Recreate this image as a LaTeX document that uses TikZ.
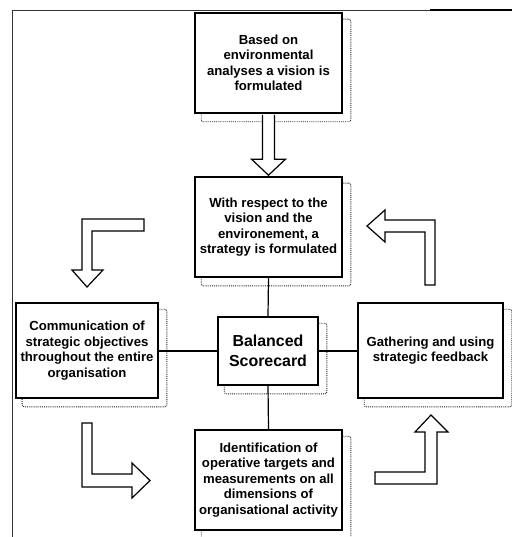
\documentclass[tikz,border=0pt]{standalone}
\usepackage{fontspec}
\setmainfont{Liberation Sans}
\usetikzlibrary{calc}
% dotted drop shadow along the right and bottom sides of a box
\newcommand\boxshadow[1]{%
  \draw[shadowline] ($(#1.north east)+(0,7)$) -| ($(#1.south east)+(8,8)$)
    -| ($(#1.south west)+(7,0)$);}
\begin{document}
\begin{tikzpicture}[x=1bp,y=-1bp,
  box/.style={draw, line width=1.6bp, fill=white, align=center, inner sep=2bp,
    font=\fontsize{13.2}{15.5}\selectfont\bfseries},
  shadowline/.style={draw=black!85, line width=0.9bp, densely dotted, rounded corners=2bp},
  link/.style={line width=1.2bp},
  blockarrow/.style={draw, line width=1.2bp, fill=white, line join=miter}]

\useasboundingbox (0,0) rectangle (512,537);

% page frame
\draw[line width=0.8bp, black!80] (12,537) -- (12,10) -- (430,10);
\draw[line width=1.4bp] (430,10) -- (512,10);

% boxes
\node[box, minimum width=147bp, minimum height=100bp] (vision) at (268.5,63)
  {Based on\\environmental\\analyses a vision is\\formulated};
\node[box, minimum width=147bp, minimum height=100bp] (strategy) at (268.5,227)
  {With respect to the\\vision and the\\environement, a\\strategy is formulated};
\node[box, minimum width=100bp, minimum height=68bp,
  font=\fontsize{16}{20}\selectfont\bfseries] (bsc) at (268,351)
  {Balanced\\Scorecard};
\node[box, minimum width=142bp, minimum height=95bp] (comm) at (87,350.5)
  {Communication of\\strategic objectives\\throughout the entire\\organisation};
\node[box, minimum width=145bp, minimum height=95bp] (feedback) at (430.5,350.5)
  {Gathering and using\\strategic feedback};
\node[box, minimum width=147bp, minimum height=100bp] (ident) at (268.5,480)
  {Identification of\\operative targets and\\measurements on all\\dimensions of\\organisational activity};

\foreach \b in {vision,strategy,bsc,comm,feedback,ident} {\boxshadow{\b}}

% links to the central box
\draw[link] (strategy.south) -- (bsc.north);
\draw[link] (bsc.south) -- (ident.north);
\draw[link] (bsc.west) -- (bsc.west -| comm.east);
\draw[link] (bsc.east) -- (bsc.east -| feedback.west);

% hollow arrow from the vision to the strategy
\draw[blockarrow] ($(vision.south)+(-6,1)$) -- ($(strategy.north)+(-6,-17)$)
  -- ($(strategy.north)+(-17,-17)$) -- ($(strategy.north)+(0,-1)$)
  -- ($(strategy.north)+(17,-17)$) -- ($(strategy.north)+(6,-17)$)
  -- ($(vision.south)+(6,1)$);

% hollow bent arrows of the cycle
\draw[blockarrow] (144,219) -- (82,219) -- (82,270) -- (72,270) -- (87,287)
  -- (103,270) -- (92,270) -- (92,231) -- (144,231) -- cycle;
\draw[blockarrow] (82,423) -- (92,423) -- (92,474) -- (132,474) -- (132,463)
  -- (150,480.5) -- (132,498) -- (132,487) -- (82,487) -- cycle;
\draw[blockarrow] (431,415) -- (448,432) -- (437,432) -- (437,484) -- (375,484)
  -- (375,472) -- (425,472) -- (425,432) -- (415,432) -- cycle;
\draw[blockarrow] (367,226) -- (385,210) -- (385,220) -- (435,220) -- (435,285)
  -- (425,285) -- (425,232) -- (385,232) -- (385,242) -- cycle;
\end{tikzpicture}
\end{document}
